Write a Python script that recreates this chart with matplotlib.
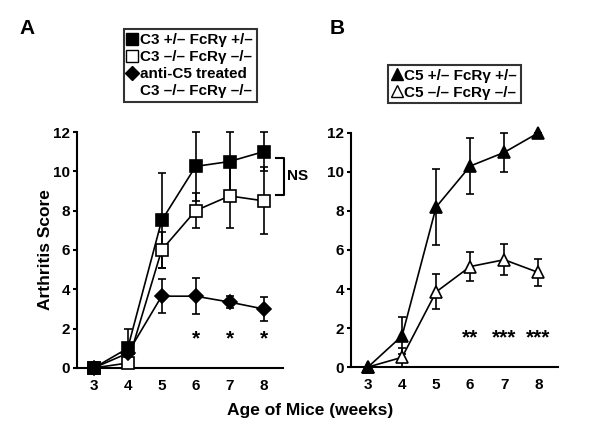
import matplotlib.pyplot as plt
from matplotlib.lines import Line2D

plt.rcParams['font.family'] = ['Liberation Sans', 'DejaVu Sans']
plt.rcParams['font.weight'] = 'bold'

weeks = [3, 4, 5, 6, 7, 8]

# panel A
c3_het = [0, 1.0, 7.5, 10.25, 10.5, 11.0]
c3_het_err = [0, 1.0, 2.4, 1.75, 1.5, 1.0]
c3_ko = [0, 0.25, 6.0, 8.0, 8.75, 8.5]
c3_ko_err = [0, 0.25, 0.9, 0.9, 1.65, 1.7]
anti_c5 = [0, 0.75, 3.65, 3.65, 3.35, 3.0]
anti_c5_err = [0, 0.5, 0.85, 0.9, 0.3, 0.6]
stars_a = ['*', '*', '*']

# panel B
c5_het = [0, 1.6, 8.2, 10.3, 11.0, 12.0]
c5_het_err = [0, 0.95, 1.95, 1.45, 1.0, 0]
c5_ko = [0, 0.5, 3.85, 5.15, 5.5, 4.85]
c5_ko_err = [0, 0.5, 0.9, 0.75, 0.8, 0.7]
stars_b = ['**', '***', '***']
star_weeks = [6, 7, 8]

fig = plt.figure(figsize=(6, 4.46), dpi=100)
axA = fig.add_axes([0.128, 0.175, 0.344, 0.529])
axB = fig.add_axes([0.585, 0.177, 0.345, 0.525])

def style(ax):
    ax.set_xlim(2.5, 8.58)
    ax.set_ylim(0, 12)
    ax.spines['top'].set_visible(False)
    ax.spines['right'].set_visible(False)
    ax.spines['left'].set_linewidth(1.5)
    ax.spines['bottom'].set_linewidth(1.5)
    ax.set_xticks(weeks)
    ax.set_yticks([0, 2, 4, 6, 8, 10, 12])
    ax.tick_params(axis='x', length=0, pad=8, labelsize=11)
    ax.tick_params(axis='y', length=3, width=1.5, direction='out', labelsize=11, pad=2)
    for lab in ax.get_xticklabels() + ax.get_yticklabels():
        lab.set_fontweight('bold')

def series(ax, y, err, marker, face, ms):
    ax.errorbar(weeks, y, yerr=err, color='black', lw=1.2, elinewidth=1.2,
                capsize=3, capthick=1.2, marker=marker, ms=ms, mfc=face,
                mec='black', mew=1.2, clip_on=False, zorder=3)

style(axA)
series(axA, c3_ko, c3_ko_err, 's', 'white', 8)
series(axA, anti_c5, anti_c5_err, 'D', 'black', 7)
series(axA, c3_het, c3_het_err, 's', 'black', 8)
for w, s in zip(star_weeks, stars_a):
    axA.text(w, 1.5, s, ha='center', va='center', fontsize=15, fontweight='bold')
# NS bracket
axA.plot([8.38, 8.6, 8.6, 8.38], [10.7, 10.7, 8.8, 8.8], color='black', lw=1.5, clip_on=False)
axA.text(8.68, 9.75, 'NS', ha='left', va='center', fontsize=11, fontweight='bold')
axA.set_ylabel('Arthritis Score', fontsize=12.5, fontweight='bold', labelpad=0)

hA = [Line2D([], [], ls='none', marker='s', ms=8, mfc='black', mec='black'),
      Line2D([], [], ls='none', marker='s', ms=8, mfc='white', mec='black'),
      Line2D([], [], ls='none', marker='D', ms=7, mfc='black', mec='black'),
      Line2D([], [], ls='none', marker='none')]
lA = ['C3 +/– FcRγ +/–', 'C3 –/– FcRγ –/–', 'anti-C5 treated', 'C3 –/– FcRγ –/–']
legA = axA.legend(hA, lA, loc='lower center', bbox_to_anchor=(0.55, 1.095), frameon=True,
                  fancybox=False, edgecolor='black', handlelength=0.6, handletextpad=0.2,
                  labelspacing=0.2, borderpad=0.25, prop={'size': 11, 'weight': 'bold'})
legA.get_frame().set_linewidth(1.5)

style(axB)
series(axB, c5_ko, c5_ko_err, '^', 'white', 9)
series(axB, c5_het, c5_het_err, '^', 'black', 9)
for w, s in zip(star_weeks, stars_b):
    axB.text(w, 1.5, s, ha='center', va='center', fontsize=15, fontweight='bold')

hB = [Line2D([], [], ls='none', marker='^', ms=9, mfc='black', mec='black'),
      Line2D([], [], ls='none', marker='^', ms=9, mfc='white', mec='black')]
lB = ['C5 +/– FcRγ +/–', 'C5 –/– FcRγ –/–']
legB = axB.legend(hB, lB, loc='lower center', bbox_to_anchor=(0.5, 1.093), frameon=True,
                  fancybox=False, edgecolor='black', handlelength=0.6, handletextpad=0.2,
                  labelspacing=0.2, borderpad=0.25, prop={'size': 11, 'weight': 'bold'})
legB.get_frame().set_linewidth(1.5)

fig.text(0.045, 0.935, 'A', fontsize=15, fontweight='bold', ha='center', va='center')
fig.text(0.562, 0.935, 'B', fontsize=15, fontweight='bold', ha='center', va='center')
fig.text(0.517, 0.08, 'Age of Mice (weeks)', fontsize=12.5, fontweight='bold', ha='center', va='center')

fig.savefig('out.png', dpi=100)
